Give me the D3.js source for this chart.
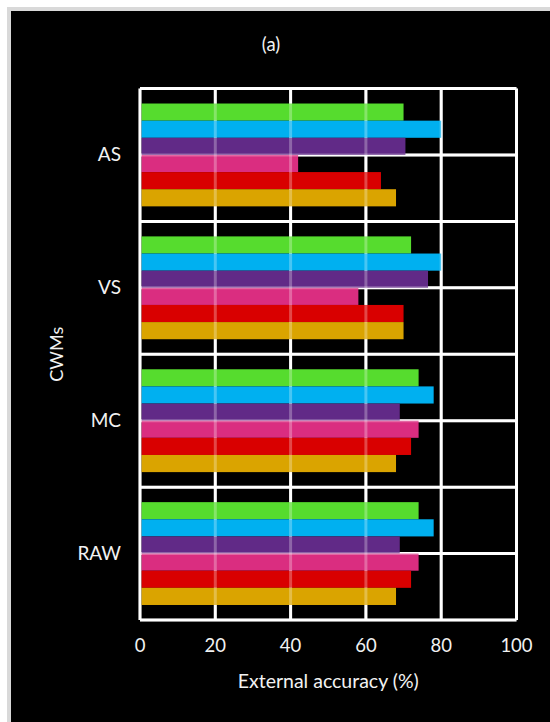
<!DOCTYPE html>
<html>
<head>
<meta charset="utf-8">
<script src="https://cdn.jsdelivr.net/npm/d3@7"></script>
<style>
  html, body { margin: 0; padding: 0; background: #ffffff; }
  svg { display: block; }
  text { font-family: Lato, "Open Sans", sans-serif; fill: #f2f2f2; }
</style>
</head>
<body>
<svg id="chart" width="550" height="722"></svg>
<script>
// Categories (top to bottom) and per-series accuracy values (%)
const categories = ["AS", "VS", "MC", "RAW"];
// Series listed top-to-bottom within each group
const seriesNames = ["S6", "S5", "S4", "S3", "S2", "S1"];
const seriesColors = ["#56dc2e", "#00b0f0", "#612a87", "#da2d80", "#d90000", "#daa400"];
const s6 = [70, 72, 74, 74];
const s5 = [80, 80, 78, 78];
const s4 = [70.5, 76.5, 69, 69];
const s3 = [42, 58, 74, 74];
const s2 = [64, 70, 72, 72];
const s1 = [68, 70, 68, 68];
const seriesValues = [s6, s5, s4, s3, s2, s1];
const xTicks = [0, 20, 40, 60, 80, 100];

const svg = d3.select("#chart");
const W = 550, H = 722;

// Page frame: white margin, thin grey rule, black chart area
svg.append("rect").attr("width", W).attr("height", H).attr("fill", "#ffffff");
svg.append("rect").attr("x", 7).attr("y", 7).attr("width", W - 7).attr("height", H - 7).attr("fill", "#d9d9d9");
svg.append("rect").attr("x", 11).attr("y", 11).attr("width", W - 11).attr("height", H - 11).attr("fill", "#000000");

const plot = { left: 140, right: 516.5, top: 88.5, bottom: 620 };

const x = d3.scaleLinear().domain([0, 100]).range([plot.left, plot.right]);
const y = d3.scaleBand().domain(categories).range([plot.top, plot.bottom]).padding(0);
const yInner = d3.scaleBand().domain(seriesNames)
  .range([y.bandwidth() * 0.113, y.bandwidth() * 0.887]).padding(0);

// Horizontal rules at category boundaries and band midpoints
const hLines = [];
categories.forEach(c => { hLines.push(y(c)); hLines.push(y(c) + y.bandwidth() / 2); });
hLines.push(plot.bottom);

function drawGrid(g, opacity) {
  g.selectAll("line.v").data(xTicks).join("line")
    .attr("class", "v")
    .attr("x1", d => x(d)).attr("x2", d => x(d))
    .attr("y1", plot.top).attr("y2", plot.bottom)
    .attr("stroke", "#ffffff").attr("stroke-width", 3).attr("stroke-opacity", opacity);
  g.selectAll("line.h").data(hLines).join("line")
    .attr("class", "h")
    .attr("x1", plot.left).attr("x2", plot.right)
    .attr("y1", d => d).attr("y2", d => d)
    .attr("stroke", "#ffffff").attr("stroke-width", 3).attr("stroke-opacity", opacity);
}

drawGrid(svg.append("g"), 1);

// Bars
const barData = [];
categories.forEach((c, ci) => {
  seriesNames.forEach((s, si) => {
    barData.push({ cat: c, series: s, value: seriesValues[si][ci], color: seriesColors[si] });
  });
});

svg.append("g").selectAll("rect").data(barData).join("rect")
  .attr("x", x(0) + 1.5)
  .attr("y", d => y(d.cat) + yInner(d.series))
  .attr("width", d => x(d.value) - x(0) - 1.5)
  .attr("height", yInner.bandwidth())
  .attr("fill", d => d.color);

// Grid lines show faintly through the bars
drawGrid(svg.append("g"), 0.28);

// X axis tick labels
svg.append("g").selectAll("text").data(xTicks).join("text")
  .attr("x", d => x(d)).attr("y", 652)
  .attr("text-anchor", "middle")
  .attr("font-size", 18.5)
  .text(d => d);

// Category labels
svg.append("g").selectAll("text").data(categories).join("text")
  .attr("x", 121).attr("y", d => y(d) + y.bandwidth() / 2 + 6.5)
  .attr("text-anchor", "end")
  .attr("font-size", 19)
  .text(d => d);

// Axis titles
svg.append("text")
  .attr("x", (plot.left + plot.right) / 2).attr("y", 688)
  .attr("text-anchor", "middle").attr("font-size", 19.5)
  .text("External accuracy (%)");

svg.append("text")
  .attr("transform", `translate(63, ${(plot.top + plot.bottom) / 2}) rotate(-90)`)
  .attr("text-anchor", "middle").attr("font-size", 18)
  .text("CWMs");

// Panel title
svg.append("text")
  .attr("x", 271).attr("y", 51)
  .attr("text-anchor", "middle").attr("font-size", 18.5)
  .text("(a)");
</script>
</body>
</html>
